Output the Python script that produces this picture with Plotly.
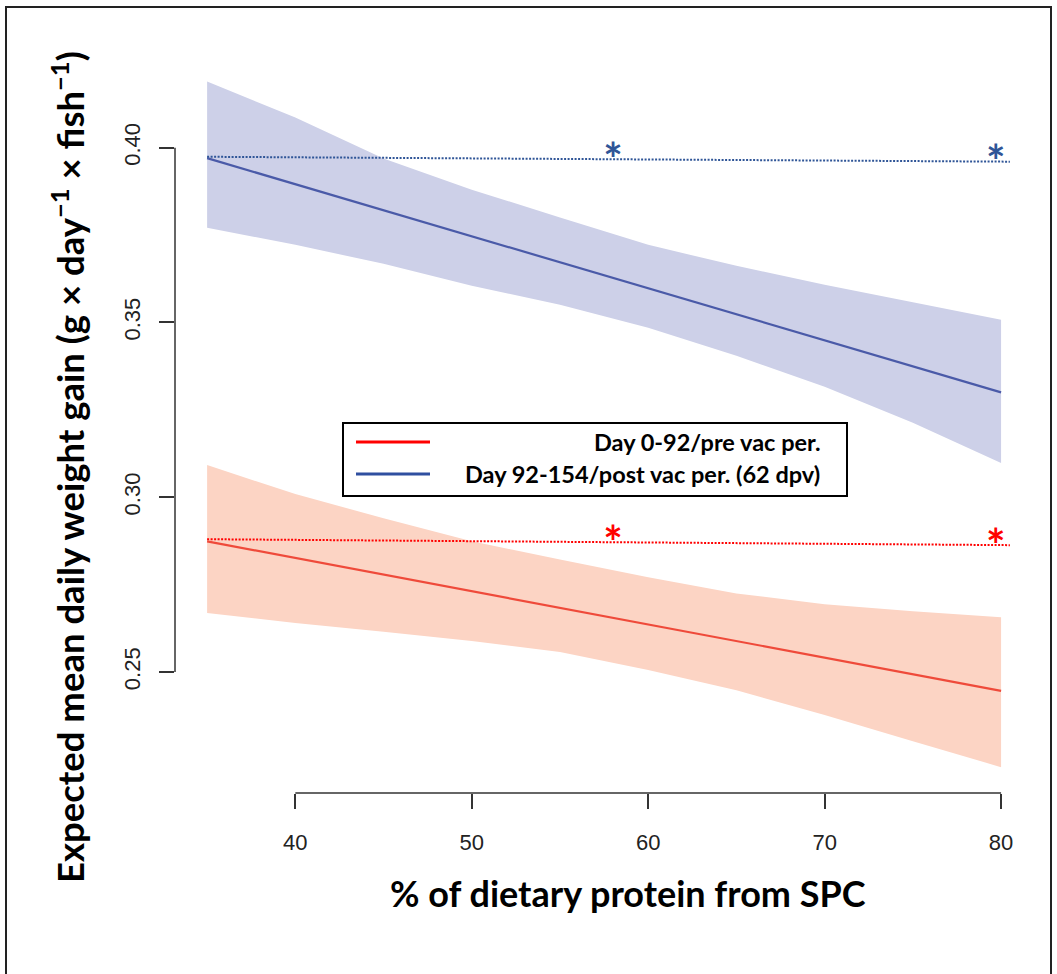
import plotly.graph_objects as go

# % of dietary protein from SPC at which the confidence bands were evaluated
spc_grid = [35, 40, 45, 50, 55, 60, 65, 70, 75, 80]

# Day 92-154 / post vaccination period: 95% band
post_upper = [0.4189, 0.4086, 0.3969, 0.3880, 0.3800, 0.3722, 0.3662, 0.3608, 0.3558, 0.3508]
post_lower = [0.3771, 0.3722, 0.3668, 0.3605, 0.3551, 0.3485, 0.3405, 0.3316, 0.3213, 0.3098]

# Day 0-92 / pre vaccination period: 95% band
pre_upper = [0.3092, 0.3009, 0.2940, 0.2874, 0.2822, 0.2771, 0.2725, 0.2694, 0.2674, 0.2657]
pre_lower = [0.2669, 0.2640, 0.2615, 0.2589, 0.2557, 0.2506, 0.2448, 0.2377, 0.2302, 0.2228]

# Fitted regression lines (end points)
fit_x = [35, 80]
post_fit = [0.3970, 0.3300]
pre_fit = [0.2874, 0.2446]

# Reference (0 % SPC) level, drawn as dotted lines
ref_x = [35, 80.5]
post_ref = [0.3974, 0.3960]
pre_ref = [0.2880, 0.2863]

# Levels with a significant difference from the reference (marker anchor heights)
sig_x = [58, 79.7]
post_sig_y = [0.3952, 0.3945]
pre_sig_y = [0.2857, 0.2849]

x_ticks = [40, 50, 60, 70, 80]
y_ticks = [0.25, 0.30, 0.35, 0.40]
y_tick_text = ["0.25", "0.30", "0.35", "0.40"]

legend_labels = ["Day 0-92/pre vac per.", "Day 92-154/post vac per. (62 dpv)"]

BLUE_FILL = "#cdd0e8"
RED_FILL = "#fcd4c4"
BLUE_LINE = "#4a5aa8"
RED_LINE = "#ef4a3a"
BLUE_DARK = "#2f5597"
RED_BRIGHT = "#ff0000"

fig = go.Figure()

# confidence bands
for up, lo, col in [(post_upper, post_lower, BLUE_FILL), (pre_upper, pre_lower, RED_FILL)]:
    fig.add_trace(go.Scatter(x=spc_grid, y=up, mode="lines", line=dict(width=0, color=col),
                             showlegend=False, hoverinfo="skip"))
    fig.add_trace(go.Scatter(x=spc_grid, y=lo, mode="lines", line=dict(width=0, color=col),
                             fill="tonexty", fillcolor=col, showlegend=False, hoverinfo="skip"))

# fitted lines
fig.add_trace(go.Scatter(x=fit_x, y=post_fit, mode="lines", line=dict(color=BLUE_LINE, width=2.2),
                         name=legend_labels[1], showlegend=False))
fig.add_trace(go.Scatter(x=fit_x, y=pre_fit, mode="lines", line=dict(color=RED_LINE, width=2.2),
                         name=legend_labels[0], showlegend=False))

# reference levels (dotted)
fig.add_trace(go.Scatter(x=ref_x, y=post_ref, mode="lines",
                         line=dict(color=BLUE_DARK, width=2, dash="2px,1.5px"), showlegend=False))
fig.add_trace(go.Scatter(x=ref_x, y=pre_ref, mode="lines",
                         line=dict(color=RED_BRIGHT, width=2, dash="2px,1.5px"), showlegend=False))

# significance markers
fig.add_trace(go.Scatter(x=sig_x, y=post_sig_y, mode="text", text=["*", "*"],
                         textposition="middle center",
                         textfont=dict(family="Lato", size=46, color=BLUE_DARK, weight="bold"),
                         showlegend=False))
fig.add_trace(go.Scatter(x=sig_x, y=pre_sig_y, mode="text", text=["*", "*"],
                         textposition="middle center",
                         textfont=dict(family="Lato", size=46, color=RED_BRIGHT, weight="bold"),
                         showlegend=False))

W, H = 1057, 974
L, R, T, B = 175, 15, 54, 181
pw, ph = W - L - R, H - T - B


def px_x(x):
    return (x - L) / pw


def px_y(y):
    return (H - B - y) / ph


shapes = [
    # R-style axis lines spanning the tick range only
    dict(type="line", xref="x", yref="paper", x0=x_ticks[0], x1=x_ticks[-1], y0=0, y1=0,
         line=dict(color="#333333", width=1.5)),
    dict(type="line", xref="paper", yref="y", x0=0, x1=0, y0=y_ticks[0], y1=y_ticks[-1],
         line=dict(color="#333333", width=1.5)),
    # legend frame and keys
    dict(type="rect", xref="paper", yref="paper", x0=px_x(343), x1=px_x(847),
         y0=px_y(496), y1=px_y(423), line=dict(color="black", width=2), fillcolor="white"),
    dict(type="line", xref="paper", yref="paper", x0=px_x(356), x1=px_x(430),
         y0=px_y(442), y1=px_y(442), line=dict(color=RED_BRIGHT, width=3)),
    dict(type="line", xref="paper", yref="paper", x0=px_x(356), x1=px_x(430),
         y0=px_y(474), y1=px_y(474), line=dict(color="#2f4fa0", width=3)),
    # outer frame
    dict(type="rect", xref="paper", yref="paper", x0=px_x(6), x1=px_x(1051),
         y0=px_y(990), y1=px_y(7), line=dict(color="#222222", width=2)),
]

annotations = [
    dict(xref="paper", yref="paper", x=px_x(822), y=px_y(442), xanchor="right", yanchor="middle",
         text=legend_labels[0], showarrow=False,
         font=dict(family="Lato", size=23.5, color="black", weight="bold")),
    dict(xref="paper", yref="paper", x=px_x(822), y=px_y(474), xanchor="right", yanchor="middle",
         text=legend_labels[1], showarrow=False,
         font=dict(family="Lato", size=23.5, color="black", weight="bold")),
    dict(xref="paper", yref="paper", x=px_x(628), y=px_y(893), xanchor="center", yanchor="middle",
         text="% of dietary protein from SPC", showarrow=False,
         font=dict(family="Lato", size=36, color="black", weight="bold")),
    dict(xref="paper", yref="paper", x=px_x(68), y=px_y(467), xanchor="center", yanchor="middle",
         textangle=-90,
         text="Expected mean daily weight gain (g \u00d7 day<sup>\u22121</sup> \u00d7 fish<sup>\u22121</sup>)",
         showarrow=False, font=dict(family="Lato", size=36.5, color="black", weight="bold")),
]

fig.update_layout(
    width=W, height=H,
    margin=dict(l=L, r=R, t=T, b=B, pad=0),
    paper_bgcolor="white", plot_bgcolor="white",
    showlegend=False,
    shapes=shapes,
    annotations=annotations,
    xaxis=dict(range=[33.18, 82.32], tickvals=x_ticks, ticktext=[str(v) for v in x_ticks],
               ticks="outside", ticklen=15, tickwidth=1.5, tickcolor="#333333",
               showgrid=False, zeroline=False, showline=False,
               tickfont=dict(family="Liberation Sans", size=22, color="#222222"),
               ticklabelstandoff=15),
    yaxis=dict(range=[0.2154, 0.4268], tickvals=y_ticks, ticktext=y_tick_text,
               ticks="outside", ticklen=15, tickwidth=1.5, tickcolor="#333333",
               showgrid=False, zeroline=False, showline=False, tickangle=-90,
               tickfont=dict(family="Liberation Sans", size=22, color="#222222"),
               ticklabelstandoff=10),
)

fig.write_html("out.html")
